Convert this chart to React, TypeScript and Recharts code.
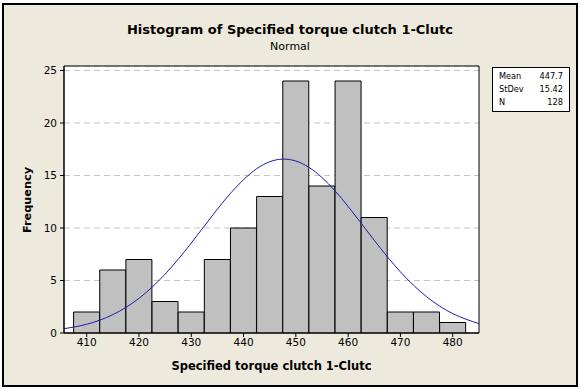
import React from 'react';
import {
  ComposedChart,
  Bar,
  Line,
  XAxis,
  YAxis,
  CartesianGrid,
  ReferenceArea,
} from 'recharts';

// histogram bins (centre of each 5-wide class) and counts
const binCenters = [410, 415, 420, 425, 430, 435, 440, 445, 450, 455, 460, 465, 470, 475, 480];
const frequencies = [2, 6, 7, 3, 2, 7, 10, 13, 24, 14, 24, 11, 2, 2, 1];

// fitted normal curve
const curveX = [405, 410, 415, 420, 425, 430, 435, 440, 445, 450, 455, 460, 465, 470, 475, 480, 485];
const curveY = [0.36, 0.83, 1.75, 3.3, 5.61, 8.57, 11.8, 14.61, 16.31, 16.38, 14.81, 12.05, 8.83, 5.82, 3.46, 1.85, 0.89];

const xTicks = [410, 420, 430, 440, 450, 460, 470, 480];
const yTicks = [0, 5, 10, 15, 20, 25];

const statLabels = ['Mean', 'StDev', 'N'];
const statValues = ['447.7', '15.42', '128'];

const X_MIN = 405.66;
const X_MAX = 485.03;
const Y_MAX = 25.43;

const bins = binCenters.map((bin, i) => ({ bin, count: frequencies[i] }));
const curve = curveX.map((x, i) => ({ x, y: curveY[i] }));

const font = '"DejaVu Sans", Verdana, sans-serif';
const tickStyle = { fontFamily: font, fontSize: 10.5, fill: '#000' };

export default function App() {
  return (
    <div style={{ position: 'absolute', left: 0, top: 0, width: 582, height: 391, background: '#fff' }}>
      <div
        style={{
          position: 'absolute',
          left: 2,
          top: 3,
          width: 576,
          height: 384,
          boxSizing: 'border-box',
          border: '2px solid #000',
          background: '#EDE9DC',
        }}
      />
      <div
        style={{
          position: 'absolute',
          left: 2,
          width: 576,
          top: 22,
          textAlign: 'center',
          fontFamily: font,
          fontWeight: 'bold',
          fontSize: 13,
          lineHeight: '16px',
        }}
      >
        Histogram of Specified torque clutch 1-Clutc
      </div>
      <div
        style={{
          position: 'absolute',
          left: 2,
          width: 576,
          top: 40,
          textAlign: 'center',
          fontFamily: font,
          fontSize: 11,
          lineHeight: '14px',
        }}
      >
        Normal
      </div>

      <div style={{ position: 'absolute', left: 0, top: 0 }}>
        <ComposedChart
          width={582}
          height={391}
          data={bins}
          margin={{ top: 66, right: 103, bottom: 28, left: 4 }}
          barCategoryGap={0}
          barGap={0}
        >
          <CartesianGrid
            xAxisId="num"
            vertical={false}
            fill="#fff"
            stroke="#C4C4C4"
            strokeDasharray="6 4"
          />
          <XAxis
            xAxisId="num"
            dataKey="x"
            type="number"
            domain={[X_MIN, X_MAX]}
            allowDataOverflow
            ticks={xTicks}
            tickSize={4}
            tickMargin={2}
            height={30}
            stroke="#000"
            tick={tickStyle}
          />
          <XAxis
            xAxisId="bins"
            dataKey="bin"
            type="category"
            hide
            height={0}
            padding={{ left: 9.6, right: 13.2 }}
          />
          <YAxis
            domain={[0, Y_MAX]}
            allowDataOverflow
            ticks={yTicks}
            width={60}
            tickSize={4}
            tickMargin={3}
            stroke="#000"
            tick={tickStyle}
          />
          <Bar
            xAxisId="bins"
            dataKey="count"
            fill="#C0C0C0"
            stroke="#000"
            strokeWidth={1}
            isAnimationActive={false}
          />
          <Line
            xAxisId="num"
            data={curve}
            dataKey="y"
            type="natural"
            stroke="#1C1CB0"
            strokeWidth={1}
            dot={false}
            activeDot={false}
            isAnimationActive={false}
          />
          <ReferenceArea
            xAxisId="num"
            x1={X_MIN}
            x2={X_MAX}
            y1={0}
            y2={Y_MAX}
            fill="none"
            fillOpacity={0}
            stroke="#000"
            strokeWidth={1}
          />
        </ComposedChart>
      </div>

      <div
        style={{
          position: 'absolute',
          left: 5,
          top: 200,
          width: 46,
          height: 16,
          marginTop: -8,
          transform: 'rotate(-90deg)',
          transformOrigin: '23px 8px',
          textAlign: 'center',
          fontFamily: font,
          fontWeight: 'bold',
          fontSize: 11.3,
          lineHeight: '16px',
          whiteSpace: 'nowrap',
          display: 'flex',
          justifyContent: 'center',
        }}
      >
        Frequency
      </div>
      <div
        style={{
          position: 'absolute',
          left: 64,
          width: 415,
          top: 358,
          textAlign: 'center',
          fontFamily: font,
          fontWeight: 'bold',
          fontSize: 11.5,
          lineHeight: '16px',
        }}
      >
        Specified torque clutch 1-Clutc
      </div>

      <div
        style={{
          position: 'absolute',
          left: 492,
          top: 67,
          width: 78,
          height: 45,
          boxSizing: 'border-box',
          border: '1px solid #000',
          background: '#fff',
          fontFamily: font,
          fontSize: 8.2,
          padding: '2px 6px 0 6px',
        }}
      >
        {statLabels.map((label, i) => (
          <div key={label} style={{ display: 'flex', justifyContent: 'space-between', height: 13, lineHeight: '13px' }}>
            <span>{label}</span>
            <span>{statValues[i]}</span>
          </div>
        ))}
      </div>
    </div>
  );
}
